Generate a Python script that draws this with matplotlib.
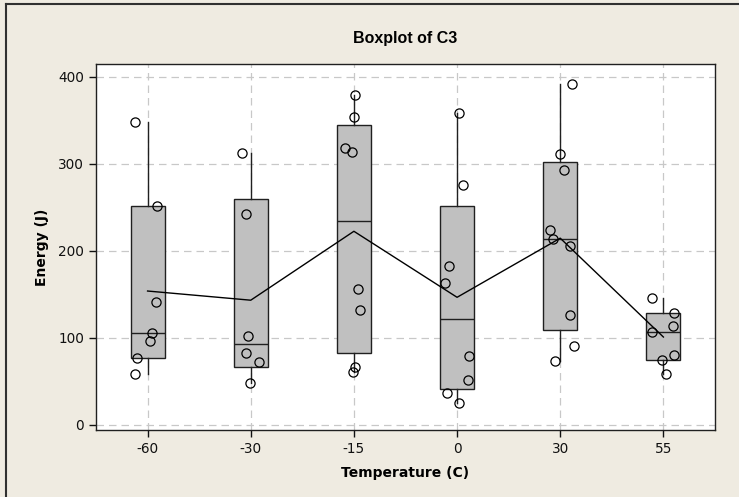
import numpy as np
import matplotlib.pyplot as plt
from matplotlib.lines import Line2D

plt.rcParams['font.family'] = ['DejaVu Sans']

# Energy (J) readings per temperature group
temps = ['-60', '-30', '-15', '0', '30', '55']
e_m60 = [348, 251, 141, 105, 96, 77, 58]
e_m30 = [312, 242, 102, 83, 72, 48]
e_m15 = [379, 354, 318, 313, 156, 132, 66, 61]
e_0 = [358, 275, 183, 163, 79, 52, 37, 25]
e_30 = [392, 311, 293, 224, 214, 206, 126, 91, 73]
e_55 = [146, 128, 113, 107, 80, 74, 58]
groups = [e_m60, e_m30, e_m15, e_0, e_30, e_55]

# horizontal jitter of the individual points (category units), as drawn
jit = [
    [-0.12, 0.09, 0.08, 0.04, 0.02, -0.10, -0.12],
    [-0.08, -0.05, -0.03, -0.05, 0.08, -0.01],
    [0.01, 0.00, -0.09, -0.02, 0.04, 0.06, 0.01, -0.01],
    [0.02, 0.06, -0.08, -0.12, 0.12, 0.11, -0.10, 0.02],
    [0.11, 0.00, 0.04, -0.10, -0.07, 0.09, 0.09, 0.13, -0.05],
    [-0.11, 0.10, 0.09, -0.11, 0.10, -0.01, 0.03],
]

bg = '#EFEBE1'
fig = plt.figure(figsize=(7.39, 4.97), dpi=100, facecolor=bg)
ax = fig.add_axes([0.1299, 0.1348, 0.8376, 0.7364])
ax.set_facecolor('white')

# Minitab style quartiles: (n+1)p positions
stats = []
for i, g in enumerate(groups):
    a = np.array(g, dtype=float)
    q1, med, q3 = np.percentile(a, [25, 50, 75], method='weibull')
    iqr = q3 - q1
    lo = a[a >= q1 - 1.5 * iqr].min()
    hi = a[a <= q3 + 1.5 * iqr].max()
    stats.append(dict(med=med, q1=q1, q3=q3, whislo=lo, whishi=hi,
                      fliers=[], label=temps[i]))

pos = np.arange(1, len(groups) + 1)
ax.bxp(stats, positions=pos, widths=0.33, patch_artist=True, showcaps=False,
       boxprops=dict(facecolor='#C0C0C0', edgecolor='#202020', linewidth=1.0),
       medianprops=dict(color='#202020', linewidth=1.0),
       whiskerprops=dict(color='#202020', linewidth=1.0), zorder=3)

means = [np.mean(g) for g in groups]
ax.plot(pos, means, color='black', lw=1.0, zorder=4)

for i, g in enumerate(groups):
    ax.plot(pos[i] + np.array(jit[i]), g, 'o', ms=6.6, mfc='none',
            mec='black', mew=0.9, zorder=5)

ax.set_xlim(0.5, 6.5)
ax.set_ylim(-6, 414.6)
ax.set_yticks([0, 100, 200, 300, 400])
ax.set_xticks(pos)
ax.set_xticklabels(temps)
ax.grid(True, color='#C8C8C8', linestyle=(0, (6, 4)), linewidth=0.9)
ax.set_axisbelow(True)
for s in ax.spines.values():
    s.set_color('#202020')
    s.set_linewidth(1.0)
ax.tick_params(direction='out', length=5, width=1, labelsize=9.8, colors='#111111')

ax.set_xlabel('Temperature (C)', fontsize=10, fontweight='bold', labelpad=7)
ax.set_ylabel('Energy (J)', fontsize=10, fontweight='bold', labelpad=7)
fig.text(0.548, 0.9235, 'Boxplot of C3', ha='center', va='center',
         fontsize=11.5, fontweight='bold', family='Liberation Sans')

# outer frame (left and top edges visible in the screenshot)
fig.add_artist(Line2D([0.008, 0.008], [0, 0.992], transform=fig.transFigure,
                      color='#303030', lw=1.5))
fig.add_artist(Line2D([0.008, 1], [0.992, 0.992], transform=fig.transFigure,
                      color='#303030', lw=1.5))

fig.savefig('out.png', dpi=100, facecolor=bg)
